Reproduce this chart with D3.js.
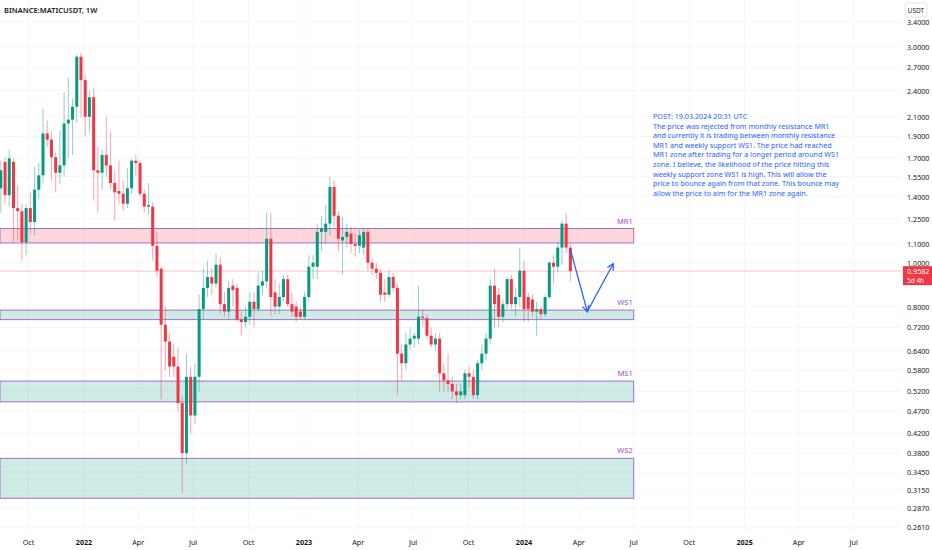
<!DOCTYPE html>
<html><head><meta charset="utf-8">
<script src="https://cdn.jsdelivr.net/npm/d3@7/dist/d3.min.js"></script>
<style>body{margin:0;background:#fff}svg{display:block;font-family:"Noto Sans",Roboto,sans-serif}</style>
</head><body><svg id="c" width="932" height="550"></svg>
<script>
const startWeek = "2021-08-16";
const opens  = [1.46,1.67,1.41,1.67,1.32,1.30,1.11,1.32,1.23,1.45,1.56,1.93,1.87,1.71,1.58,1.64,2.03,2.07,2.21,2.85,2.53,2.10,2.32,1.60,1.58,1.73,1.64,1.50,1.44,1.42,1.35,1.46,1.68,1.66,1.42,1.33,1.33,1.09,0.97,0.73,0.67,0.62,0.59,0.49,0.38,0.56,0.46,0.56,0.79,0.88,0.93,0.90,0.99,0.81,0.78,0.89,0.88,0.75,0.74,0.76,0.82,0.79,0.89,0.91,1.13,0.86,0.80,0.84,0.92,0.81,0.80,0.78,0.76,0.84,0.98,0.98,1.17,1.17,1.22,1.47,1.27,1.12,1.14,1.16,1.10,1.09,1.08,1.17,1.00,0.97,0.95,0.86,0.85,0.93,0.88,0.63,0.60,0.66,0.68,0.68,0.76,0.755,0.69,0.66,0.68,0.57,0.55,0.54,0.52,0.51,0.51,0.57,0.56,0.51,0.60,0.63,0.68,0.89,0.85,0.76,0.81,0.92,0.81,0.84,0.96,0.84,0.83,0.78,0.79,0.77,0.84,1.00,0.98,1.08,1.22,1.08];
const highs  = [1.68,1.71,1.77,1.70,1.48,1.35,1.35,1.43,1.63,1.66,2.19,2.06,1.95,1.75,1.96,2.38,2.56,2.30,2.88,2.91,2.60,2.40,2.43,1.80,1.78,2.09,1.95,1.60,1.68,1.52,1.62,1.70,1.73,1.68,1.45,1.50,1.36,1.17,0.98,0.80,0.70,0.66,0.65,0.51,0.63,0.59,0.60,0.85,0.97,1.01,0.97,1.05,1.03,0.86,0.91,0.92,0.90,0.78,0.80,0.86,0.86,0.95,0.96,1.29,1.29,0.92,0.90,0.94,0.94,0.86,0.82,0.80,0.86,1.04,1.04,1.22,1.27,1.34,1.55,1.52,1.30,1.26,1.22,1.20,1.16,1.18,1.19,1.19,1.02,1.00,0.97,0.92,0.96,0.95,0.90,0.66,0.70,0.72,0.70,0.89,0.79,0.77,0.72,0.70,0.70,0.60,0.63,0.56,0.54,0.54,0.58,0.59,0.58,0.61,0.66,0.70,0.92,0.97,0.88,0.83,0.93,0.94,0.88,1.08,1.01,0.86,0.85,0.82,0.80,0.85,1.01,1.04,1.11,1.24,1.29,1.10];
const lows   = [1.29,1.35,1.33,1.11,1.12,1.01,1.04,1.16,1.15,1.38,1.50,1.80,1.52,1.43,1.49,1.55,1.70,1.73,2.04,2.09,1.90,1.95,1.37,1.29,1.45,1.55,1.45,1.24,1.35,1.30,1.32,1.42,1.55,1.40,1.29,1.28,1.01,0.93,0.50,0.58,0.56,0.56,0.47,0.31,0.36,0.42,0.44,0.52,0.75,0.84,0.85,0.88,0.77,0.76,0.75,0.80,0.74,0.69,0.72,0.73,0.72,0.78,0.85,0.88,0.76,0.77,0.77,0.82,0.80,0.76,0.74,0.75,0.75,0.82,0.92,0.92,1.06,1.10,1.15,1.20,1.06,0.94,1.08,1.05,1.03,1.05,1.04,0.96,0.94,0.92,0.82,0.82,0.84,0.86,0.51,0.55,0.58,0.64,0.65,0.66,0.72,0.68,0.65,0.64,0.52,0.52,0.52,0.50,0.49,0.50,0.50,0.53,0.50,0.50,0.58,0.61,0.66,0.72,0.72,0.74,0.79,0.79,0.76,0.80,0.74,0.74,0.76,0.69,0.75,0.76,0.83,0.90,0.95,0.99,1.05,0.91];
const closes = [1.60,1.41,1.70,1.32,1.30,1.11,1.32,1.23,1.45,1.56,1.93,1.87,1.71,1.58,1.64,2.03,2.07,2.21,2.85,2.53,2.10,2.32,1.60,1.58,1.73,1.64,1.50,1.43,1.42,1.35,1.46,1.68,1.66,1.42,1.33,1.34,1.09,0.96,0.73,0.67,0.59,0.59,0.49,0.38,0.56,0.46,0.56,0.79,0.88,0.93,0.90,0.99,0.81,0.78,0.88,0.87,0.75,0.74,0.76,0.82,0.79,0.89,0.91,1.13,0.84,0.80,0.84,0.92,0.81,0.78,0.76,0.76,0.84,0.98,1.00,1.17,1.19,1.22,1.47,1.27,1.13,1.14,1.17,1.10,1.09,1.15,1.17,1.00,0.97,0.95,0.85,0.85,0.93,0.88,0.63,0.60,0.66,0.68,0.69,0.76,0.755,0.69,0.66,0.68,0.57,0.55,0.54,0.52,0.51,0.52,0.57,0.56,0.51,0.60,0.63,0.68,0.89,0.81,0.76,0.81,0.92,0.81,0.84,0.96,0.79,0.79,0.78,0.79,0.77,0.84,1.00,0.98,1.08,1.22,1.08,0.958];
const priceTicks = [3.4,3.0,2.7,2.4,2.1,1.9,1.7,1.55,1.4,1.25,1.1,1.0,0.8,0.72,0.64,0.58,0.52,0.47,0.42,0.38,0.345,0.315,0.287,0.261];
const zoneNames = ["MR1","WS1","MS1","WS2"];
const zoneTop = [1.19,0.786,0.548,0.370];
const zoneBot = [1.106,0.749,0.493,0.302];
const zoneKind = ["res","sup","sup","sup"];
const lastPrice = 0.9582;
const pathDates = ["2024-03-18","2024-04-15","2024-05-28"];
const pathPrices = [1.07,0.78,0.995];
const noteLines = ["POST: 19.03.2024 20:31 UTC","The price was rejected from monthly resistance MR1","and currently it is trading between monthly resistance","MR1 and weekly support WS1. The price had reached","MR1 zone after trading for a longer period around WS1","zone. I believe, the likelihood of  the price hitting this","weekly support zone WS1 is high. This will allow the","price to bounce again from that zone. This bounce may","allow the price to aim for the MR1 zone again."];

const svg = d3.select("#c");
const plotR=900,plotB=532;
const x = d3.scaleTime().domain([new Date("2022-01-01"),new Date("2024-01-01")]).range([84,524]);
const y = d3.scaleLog().domain([0.261,3.4]).range([527,22]);
const t0 = new Date(startWeek);
const candles = closes.map((c,i)=>({d:d3.timeDay.offset(t0,7*i),o:opens[i],h:highs[i],l:lows[i],c}));

const g = svg.append("g");
const xDom=[x.invert(0),x.invert(plotR)];
const months = d3.timeMonth.every(3).range(d3.timeMonth.ceil(xDom[0]), xDom[1]);
g.selectAll(".vg").data(months).join("line").attr("x1",d=>x(d)).attr("x2",d=>x(d)).attr("y1",0).attr("y2",plotB).attr("stroke","#f5f6f8");
g.selectAll(".hg").data(priceTicks).join("line").attr("x1",0).attr("x2",plotR).attr("y1",d=>y(d)).attr("y2",d=>y(d)).attr("stroke","#f5f6f8");

const zx2 = x(new Date("2024-07-01"));
zoneNames.forEach((n,i)=>{
  svg.append("rect").attr("x",0).attr("width",zx2).attr("y",y(zoneTop[i])).attr("height",y(zoneBot[i])-y(zoneTop[i]))
   .attr("fill",zoneKind[i]==="res"?"rgba(242,54,69,0.2)":"rgba(8,153,129,0.2)").attr("stroke","#a46fcf").attr("stroke-width",1);
  svg.append("text").attr("x",zx2-1).attr("y",y(zoneTop[i])-5).attr("text-anchor","end").attr("font-size",7.5).attr("fill","#a14cc0").text(n);
});

svg.append("line").attr("x1",0).attr("x2",plotR).attr("y1",y(lastPrice)).attr("y2",y(lastPrice)).attr("stroke","#f23645").attr("stroke-opacity",0.3);

const cg = svg.append("g");
cg.selectAll(".w").data(candles).join("line").attr("x1",d=>x(d.d)).attr("x2",d=>x(d.d)).attr("y1",d=>y(d.h)).attr("y2",d=>y(d.l))
  .attr("stroke",d=>d.c>=d.o?"#089981":"#f23645").attr("stroke-opacity",0.45);
cg.selectAll(".b").data(candles).join("rect").attr("x",d=>x(d.d)-1.5).attr("width",3)
  .attr("y",d=>y(Math.max(d.o,d.c))).attr("height",d=>Math.max(1,Math.abs(y(d.o)-y(d.c))))
  .attr("fill",d=>d.c>=d.o?"#089981":"#f23645");

const pts = pathDates.map((d,i)=>[x(new Date(d)),y(pathPrices[i])]);
svg.append("path").attr("d",d3.line()(pts)).attr("fill","none").attr("stroke","#2962ff").attr("stroke-width",1.3);
function head(p,q){const a=Math.atan2(q[1]-p[1],q[0]-p[0]),L=7;
  svg.append("path").attr("d",`M${q[0]-L*Math.cos(a-0.5)},${q[1]-L*Math.sin(a-0.5)}L${q[0]},${q[1]}L${q[0]-L*Math.cos(a+0.5)},${q[1]-L*Math.sin(a+0.5)}`)
   .attr("fill","none").attr("stroke","#2962ff").attr("stroke-width",1.3);}
head(pts[0],pts[1]); head(pts[1],pts[2]);

const nt = svg.append("text").attr("font-size",7.2).attr("fill","#2962ff");
noteLines.forEach((l,i)=>nt.append("tspan").attr("x",653).attr("y",119+i*9.6).text(l));

svg.append("text").attr("x",4).attr("y",13).attr("font-size",7.5).attr("font-weight",600).attr("fill","#131722").text("BINANCE:MATICUSDT, 1W");

svg.append("rect").attr("x",plotR+5).attr("y",3).attr("width",22).attr("height",14).attr("rx",2).attr("fill","#fff").attr("stroke","#e0e3eb");
svg.append("text").attr("x",plotR+16).attr("y",13).attr("text-anchor","middle").attr("font-size",6.5).attr("fill","#131722").text("USDT");
svg.selectAll(".pt").data(priceTicks).join("text").attr("x",plotR+7).attr("y",d=>y(d)+3).attr("font-size",7.2).attr("fill","#131722").text(d=>d.toFixed(4));
svg.append("rect").attr("x",plotR+3).attr("y",y(lastPrice)-5).attr("width",29).attr("height",19).attr("fill","#f23645");
svg.append("text").attr("x",plotR+7).attr("y",y(lastPrice)+3).attr("font-size",7.2).attr("fill","#fff").text(lastPrice.toFixed(4));
svg.append("text").attr("x",plotR+7).attr("y",y(lastPrice)+12).attr("font-size",6.5).attr("fill","#fff").text("5d 4h");

svg.selectAll(".xt").data(months).join("text").attr("x",d=>x(d)).attr("y",545).attr("text-anchor","middle").attr("font-size",7.2)
  .attr("font-weight",d=>d.getMonth()===0?700:400).attr("fill","#131722")
  .text(d=>d.getMonth()===0?d.getFullYear():d3.timeFormat("%b")(d));
</script></body></html>
